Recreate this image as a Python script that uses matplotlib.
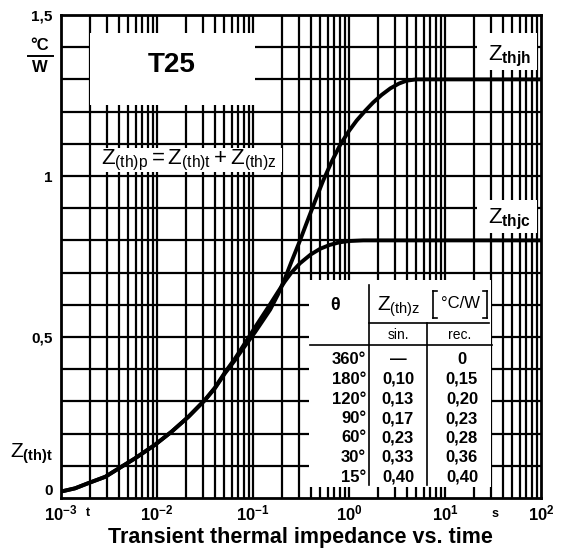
import matplotlib
matplotlib.use("Agg")
import matplotlib.pyplot as plt
from matplotlib.patches import Rectangle
from matplotlib.lines import Line2D

plt.rcParams['font.family'] = ['Liberation Sans', 'DejaVu Sans']
plt.rcParams['mathtext.fontset'] = 'custom'
plt.rcParams['mathtext.rm'] = 'Liberation Sans'
plt.rcParams['mathtext.bf'] = 'Liberation Sans:bold'
plt.rcParams['mathtext.it'] = 'Liberation Sans:italic'

# curves: time in s, Z(th)t in degC/W
t_jh = [0.001, 0.0014, 0.0019, 0.0029, 0.004, 0.0059, 0.0095, 0.0142, 0.0212,
        0.0316, 0.0402, 0.051, 0.0649, 0.0762, 0.105, 0.151, 0.182, 0.214,
        0.251, 0.309, 0.363, 0.447, 0.537, 0.661, 0.813, 1.0, 1.2, 1.48, 1.78,
        2.19, 2.69, 3.31, 3.98, 5.0, 100]
z_jh = [0.02, 0.030, 0.0455, 0.066, 0.092, 0.123, 0.165, 0.206, 0.252,
        0.304, 0.341, 0.387, 0.428, 0.458, 0.515, 0.585, 0.632, 0.68,
        0.733, 0.80, 0.855, 0.925, 0.985, 1.045, 1.098, 1.14, 1.172, 1.203, 1.228,
        1.252, 1.272, 1.287, 1.296, 1.30, 1.30]
t_jc = [0.001, 0.0014, 0.0019, 0.0029, 0.004, 0.0059, 0.0095, 0.0142, 0.0212,
        0.0316, 0.0402, 0.051, 0.0649, 0.0762, 0.105, 0.151, 0.182, 0.214,
        0.251, 0.309, 0.398, 0.501, 0.631, 0.794, 1.0, 1.41, 100]
z_jc = [0.02, 0.030, 0.0455, 0.066, 0.092, 0.123, 0.165, 0.206, 0.252,
        0.305, 0.343, 0.39, 0.433, 0.465, 0.53, 0.602, 0.64, 0.672,
        0.70, 0.729, 0.756, 0.774, 0.786, 0.794, 0.798, 0.80, 0.80]

# table values
angles = ["360°", "180°", "120°", "90°", "60°", "30°", "15°"]
z_sin = ["—", "0,10", "0,13", "0,17", "0,23", "0,33", "0,40"]
z_rec = ["0", "0,15", "0,20", "0,23", "0,28", "0,36", "0,40"]

y_ticks = [0, 0.5, 1.0, 1.5]
y_ticklabels = ["0", "0,5", "1", "1,5"]
x_ticks = [1e-3, 1e-2, 1e-1, 1e0, 1e1, 1e2]
x_ticklabels = [r"$\mathbf{10^{-3}}$", r"$\mathbf{10^{-2}}$", r"$\mathbf{10^{-1}}$",
                r"$\mathbf{10^{0}}$", r"$\mathbf{10^{1}}$", r"$\mathbf{10^{2}}$"]

W, H = 567, 558


def fx(x):
    return x / W


def fy(y):
    return 1 - y / H


fig = plt.figure(figsize=(W / 100, H / 100), dpi=100)
ax = fig.add_axes([fx(61), fy(498), 480 / W, 483 / H])
ax.set_xscale('log')
ax.set_xlim(1e-3, 1e2)
ax.set_ylim(0, 1.5)

# grid
for e in range(-3, 2):
    for k in range(1, 10):
        v = k * 10.0 ** e
        if 1e-3 < v < 1e2:
            ax.axvline(v, color='black', lw=1.6, zorder=1)
for i in range(1, 15):
    ax.axhline(i / 10, color='black', lw=1.6, zorder=1)

for s in ax.spines.values():
    s.set_linewidth(2)

ax.set_xticks(x_ticks)
ax.set_xticklabels(x_ticklabels, fontsize=12)
ax.set_xticks([], minor=True)
ax.set_yticks(y_ticks)
ax.set_yticklabels(y_ticklabels, fontsize=11, fontweight='bold')
ax.tick_params(length=0)
ax.tick_params(axis='x', pad=4)
ax.tick_params(axis='y', pad=6)
# lift the "0" a little so it clears the 10^-3 label, as in the original
ax.get_yticklabels()[0].set_verticalalignment('bottom')


def white_box(x0, y0, x1, y1):
    ax.add_patch(Rectangle((fx(x0), fy(y1)), (x1 - x0) / W, (y1 - y0) / H,
                           transform=fig.transFigure, facecolor='white',
                           edgecolor='none', zorder=1.5, clip_on=False))


white_box(90, 33, 255, 105)     # T25
white_box(95, 148, 282, 172)    # formula
white_box(477, 33, 537, 70)     # Zthjh
white_box(477, 200, 537, 233)   # Zthjc
white_box(309, 280, 491, 487)   # table

ax.plot(t_jh, z_jh, color='black', lw=2.8, zorder=3, solid_capstyle='round')
ax.plot(t_jc, z_jc, color='black', lw=2.8, zorder=3, solid_capstyle='round')


def ftext(x, y, s, **kw):
    kw.setdefault('ha', 'center')
    kw.setdefault('va', 'center')
    fig.text(fx(x), fy(y), s, **kw)


def fline(x0, y0, x1, y1, lw=1.2):
    fig.add_artist(Line2D([fx(x0), fx(x1)], [fy(y0), fy(y1)], color='black', lw=lw, zorder=4))


ftext(172, 65, "T25", fontsize=20, fontweight='bold')
ftext(189, 160, r"$\mathrm{Z_{(th)p} = Z_{(th)t} + Z_{(th)z}}$", fontsize=16)
ftext(510, 56, r"$\mathrm{Z_{\mathbf{thjh}}}$", fontsize=16)
ftext(510, 219, r"$\mathrm{Z_{\mathbf{thjc}}}$", fontsize=16)

# unit and axis label on the left
ftext(40, 46, "°C", fontsize=12, fontweight='bold')
fline(28, 56, 53, 56, lw=1.4)
ftext(40, 68, "W", fontsize=12, fontweight='bold')
ftext(32, 454, r"$\mathrm{Z_{\mathbf{(th)t}}}$", fontsize=15)
ftext(88, 513, "t", fontsize=9, fontweight='bold')
ftext(495, 514, "s", fontsize=9, fontweight='bold')

# table
ftext(335, 305, "θ", fontsize=13, fontweight='bold')
ftext(399, 307, r"$\mathrm{Z_{(th)z}}$", fontsize=15)
ftext(460, 304, "°C/W", fontsize=12)
fline(433, 291, 433, 318)
fline(433, 291, 437, 291)
fline(433, 318, 437, 318)
fline(487, 291, 487, 318)
fline(483, 291, 487, 291)
fline(483, 318, 487, 318)
ftext(398, 335, "sin.", fontsize=10)
ftext(460, 335, "rec.", fontsize=10)
fline(369, 285, 369, 485)
fline(427, 323, 427, 485)
fline(369, 323, 489, 323)
fline(310, 345, 492, 345)
for i, (a, s1, s2) in enumerate(zip(angles, z_sin, z_rec)):
    y = 360 + 19.5 * i
    ftext(366, y, a, fontsize=12, fontweight='bold', ha='right')
    ftext(398, y, s1, fontsize=12, fontweight='bold')
    ftext(462, y, s2, fontsize=12, fontweight='bold')

ftext(300, 537, "Transient thermal impedance vs. time", fontsize=15.5, fontweight='bold')

fig.savefig("out.png", dpi=100)
